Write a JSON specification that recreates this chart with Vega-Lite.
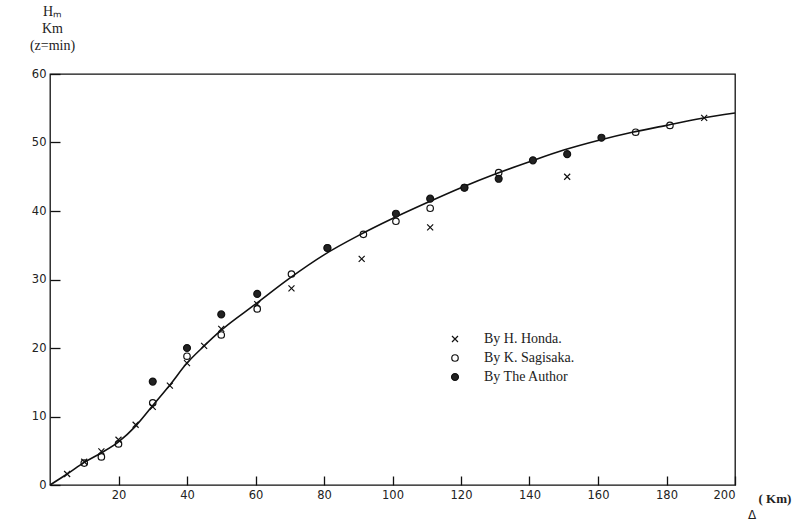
{
  "$schema": "https://vega.github.io/schema/vega-lite/v6.json",
  "autosize": "none",
  "width": 685,
  "height": 411,
  "padding": {"left": 50, "top": 74, "right": 67, "bottom": 37},
  "background": "white",
  "config": {
    "view": {"stroke": "#111", "strokeWidth": 1.3},
    "axis": {"grid": false, "domain": false, "tickColor": "#111", "tickWidth": 1.3,
             "labelFont": "DejaVu Sans", "labelFontSize": 11.5, "labelColor": "#222"}
  },
  "datasets": {
    "curve": [
      {"d": 0, "h": 0}, {"d": 5, "h": 1.6}, {"d": 10, "h": 3.3}, {"d": 15, "h": 4.7}, {"d": 20, "h": 6.3},
      {"d": 25, "h": 8.6}, {"d": 30, "h": 11.6}, {"d": 35, "h": 14.6}, {"d": 40, "h": 17.8}, {"d": 45, "h": 20.3},
      {"d": 50, "h": 22.6}, {"d": 60, "h": 26.4}, {"d": 70, "h": 30.2}, {"d": 80, "h": 33.6}, {"d": 90, "h": 36.4},
      {"d": 100, "h": 38.9}, {"d": 110, "h": 41.2}, {"d": 120, "h": 43.4}, {"d": 130, "h": 45.4}, {"d": 140, "h": 47.2},
      {"d": 150, "h": 48.9}, {"d": 160, "h": 50.3}, {"d": 170, "h": 51.5}, {"d": 180, "h": 52.5}, {"d": 190, "h": 53.5},
      {"d": 200, "h": 54.3}
    ],
    "obs": [
      {"series": "By H. Honda.", "d": 5, "h": 1.6},
      {"series": "By H. Honda.", "d": 10, "h": 3.4},
      {"series": "By H. Honda.", "d": 15, "h": 4.9},
      {"series": "By H. Honda.", "d": 20, "h": 6.6},
      {"series": "By H. Honda.", "d": 25, "h": 8.8},
      {"series": "By H. Honda.", "d": 30, "h": 11.4},
      {"series": "By H. Honda.", "d": 35, "h": 14.5},
      {"series": "By H. Honda.", "d": 40, "h": 17.8},
      {"series": "By H. Honda.", "d": 45, "h": 20.3},
      {"series": "By H. Honda.", "d": 50, "h": 22.8},
      {"series": "By H. Honda.", "d": 60.5, "h": 26.4},
      {"series": "By H. Honda.", "d": 70.5, "h": 28.7},
      {"series": "By H. Honda.", "d": 91, "h": 33.0},
      {"series": "By H. Honda.", "d": 111, "h": 37.6},
      {"series": "By H. Honda.", "d": 151, "h": 45.0},
      {"series": "By H. Honda.", "d": 191, "h": 53.6},
      {"series": "By K. Sagisaka.", "d": 10, "h": 3.2},
      {"series": "By K. Sagisaka.", "d": 15, "h": 4.1},
      {"series": "By K. Sagisaka.", "d": 20, "h": 6.0},
      {"series": "By K. Sagisaka.", "d": 30, "h": 12.0},
      {"series": "By K. Sagisaka.", "d": 40, "h": 18.8},
      {"series": "By K. Sagisaka.", "d": 50, "h": 21.9},
      {"series": "By K. Sagisaka.", "d": 60.5, "h": 25.7},
      {"series": "By K. Sagisaka.", "d": 70.5, "h": 30.8},
      {"series": "By K. Sagisaka.", "d": 81, "h": 34.6},
      {"series": "By K. Sagisaka.", "d": 91.5, "h": 36.6},
      {"series": "By K. Sagisaka.", "d": 101, "h": 38.5},
      {"series": "By K. Sagisaka.", "d": 111, "h": 40.4},
      {"series": "By K. Sagisaka.", "d": 121, "h": 43.4},
      {"series": "By K. Sagisaka.", "d": 131, "h": 45.6},
      {"series": "By K. Sagisaka.", "d": 171, "h": 51.5},
      {"series": "By K. Sagisaka.", "d": 181, "h": 52.5},
      {"series": "By The Author", "d": 30, "h": 15.1},
      {"series": "By The Author", "d": 40, "h": 20.0},
      {"series": "By The Author", "d": 50, "h": 24.9},
      {"series": "By The Author", "d": 60.5, "h": 27.9},
      {"series": "By The Author", "d": 81, "h": 34.6},
      {"series": "By The Author", "d": 101, "h": 39.6},
      {"series": "By The Author", "d": 111, "h": 41.8},
      {"series": "By The Author", "d": 121, "h": 43.4},
      {"series": "By The Author", "d": 131, "h": 44.7},
      {"series": "By The Author", "d": 141, "h": 47.4},
      {"series": "By The Author", "d": 151, "h": 48.3},
      {"series": "By The Author", "d": 161, "h": 50.7}
    ],
    "marks": [{"d": 200, "h": 0, "t": "Δ"}]
  },
  "layer": [
    {
      "data": {"name": "curve"},
      "mark": {"type": "line", "color": "#111", "strokeWidth": 1.6, "interpolate": "monotone"},
      "encoding": {
        "x": {"field": "d", "type": "quantitative",
              "scale": {"domain": [0, 200], "nice": false, "zero": true},
              "axis": {"values": [20, 40, 60, 80, 100, 120, 140, 160, 180, 200], "offset": -9, "tickSize": 9, "labelPadding": 4,
                       "title": "( Km)", "titleFont": "Liberation Serif", "titleFontSize": 13, "titleFontWeight": "bold",
                       "titleColor": "#222", "titleAnchor": "start", "titleAlign": "left", "titleX": 708, "titleY": 16, "titleBaseline": "top"}},
        "y": {"field": "h", "type": "quantitative",
              "scale": {"domain": [0, 60], "nice": false},
              "axis": {"values": [0, 10, 20, 30, 40, 50, 60], "offset": -10, "tickSize": 10, "labelPadding": 4,
                       "title": ["Hₘ", "Km", "(z=min)"], "titleFont": "Liberation Serif", "titleFontSize": 14,
                       "titleFontWeight": "normal", "titleColor": "#222", "titleAngle": 0, "titleAlign": "center",
                       "titleBaseline": "top", "titleX": -8, "titleY": -70, "titleLineHeight": 17}}
      }
    },
    {
      "data": {"name": "obs"},
      "mark": {"type": "point", "stroke": "#111", "strokeWidth": 1.2, "opacity": 1},
      "encoding": {
        "x": {"field": "d", "type": "quantitative"},
        "y": {"field": "h", "type": "quantitative"},
        "shape": {"field": "series", "type": "nominal",
                  "scale": {"domain": ["By H. Honda.", "By K. Sagisaka.", "By The Author"],
                            "range": ["M-1,-1L1,1M-1,1L1,-1", "circle", "circle"]},
                  "legend": {"orient": "none", "legendX": 398, "legendY": 258, "title": null, "padding": 0,
                             "labelFont": "Liberation Serif", "labelFontSize": 14, "labelColor": "#222",
                             "labelOffset": 22, "rowPadding": 5, "symbolStrokeColor": "#111", "symbolStrokeWidth": 1.2}},
        "fill": {"field": "series", "type": "nominal",
                 "scale": {"domain": ["By H. Honda.", "By K. Sagisaka.", "By The Author"],
                           "range": ["transparent", "transparent", "#222"]}},
        "size": {"field": "series", "type": "nominal",
                 "scale": {"domain": ["By H. Honda.", "By K. Sagisaka.", "By The Author"],
                           "range": [36, 48, 22]}}
      }
    },
    {
      "data": {"name": "marks"},
      "mark": {"type": "text", "font": "DejaVu Sans", "fontSize": 12, "color": "#222", "dx": 17, "dy": 30},
      "encoding": {
        "x": {"field": "d", "type": "quantitative"},
        "y": {"field": "h", "type": "quantitative"},
        "text": {"field": "t"}
      }
    }
  ]
}
